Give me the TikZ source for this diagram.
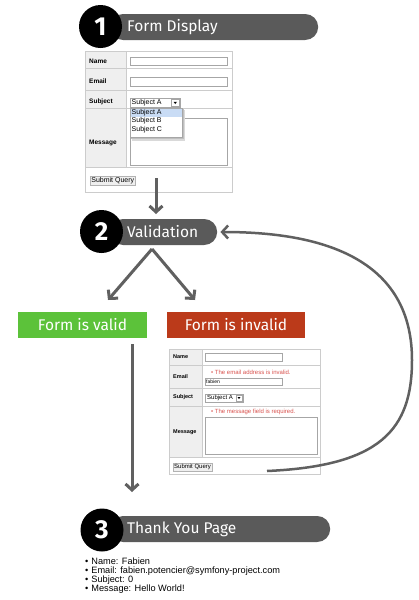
\documentclass[tikz,border=0pt]{standalone}
\usepackage{fontspec}
\setmainfont{Liberation Sans}
\newfontfamily\headfont{Fira Sans}
\usetikzlibrary{arrows.meta,shapes.misc}
\definecolor{pillgray}{HTML}{5A5A5A}
\definecolor{arrgray}{HTML}{606060}
\definecolor{okgreen}{HTML}{5CC23A}
\definecolor{badred}{HTML}{BB3A1A}
\definecolor{cellline}{HTML}{CCCCCC}
\definecolor{labelbg}{HTML}{EFEFEF}
\definecolor{errred}{HTML}{D9534F}
\definecolor{pickblue}{HTML}{C9DCF5}
\tikzset{
  badge/.style={circle,fill=black,text=white,minimum size=43pt,inner sep=0pt,font=\headfont\bfseries\fontsize{26}{26}\selectfont},
  pill/.style={rounded rectangle,fill=pillgray,minimum height=26pt,inner sep=0pt},
  ttl/.style={text=white,inner sep=0pt,anchor=west,font=\headfont\fontsize{15.5}{15.5}\selectfont},
  verdict/.style={minimum height=26pt,inner sep=0pt,text=white,font=\headfont\fontsize{15.5}{15.5}\selectfont},
  flow/.style={draw=arrgray,line width=3pt,-{Straight Barb[length=6pt,width=13pt]}},
  cell/.style={draw=cellline,line width=0.6pt},
  field/.style={draw=gray!70,fill=white,line width=0.6pt},
  lbl/.style={font=\bfseries\fontsize{6.5}{6.5}\selectfont,anchor=west,inner sep=0pt},
  ftxt/.style={font=\fontsize{7}{7}\selectfont,anchor=west,inner sep=0pt},
  err/.style={text=errred,font=\fontsize{6}{6}\selectfont,anchor=west,inner sep=0pt},
  btn/.style={draw=gray!60,fill=labelbg,inner sep=1.2pt,anchor=west,font=\fontsize{7}{7}\selectfont},
  reslist/.style={align=left,inner sep=0pt,anchor=north west,font=\fontsize{9.2}{9}\selectfont}
}

\begin{document}
\begin{tikzpicture}[x=1pt,y=-1pt]
\useasboundingbox[fill=white] (0,0) rectangle (418,600);

% step 1: the form
\node[pill,minimum width=208pt,anchor=west] (p1) at (110,27) {};
\node[badge] (b1) at (100.5,26.5) {1};
\node[ttl] (t1) at (127,27) {Form Display};

\fill[white] (85,51) rectangle (232,192);
\fill[labelbg] (85,51) rectangle (126,167);
\draw[cell] (85,51) rectangle (232,192);
\foreach \y in {68,90,108,167} \draw[cell] (85,\y) -- (232,\y);
\draw[cell] (126,51) -- (126,167);
\node[lbl] at (89,61) {Name};
\node[lbl] at (89,81) {Email};
\node[lbl] at (89,102) {Subject};
\node[lbl] at (89,143) {Message};
\draw[field] (130,57) rectangle (227,65);
\draw[field] (130,77) rectangle (227,86);
\draw[field] (130,118) rectangle (227,165);
\draw[field] (130,98) rectangle (180,107);
\node[ftxt] at (131.5,102.5) {Subject A};
\draw[field] (171.5,99.5) rectangle (179,106);
\fill (173.5,101.8) -- (177,101.8) -- (175.25,104) -- cycle;
% open list
\fill[black!15] (132,110) rectangle (185,141);
\fill[black!25] (131,109) rectangle (183.5,139);
\draw[field] (130,108) rectangle (182,137);
\fill[pickblue] (130.5,108.5) rectangle (181.5,116.5);
\node[ftxt] at (131.5,112.5) {Subject A};
\node[ftxt] at (131.5,121) {Subject B};
\node[ftxt] at (131.5,129.5) {Subject C};
\node[btn] (sq1) at (90,181) {Submit Query};

\coordinate (f1out) at (156,178);
\draw[flow] (f1out) -- (156,214);

% step 2: validation
\node[pill,minimum width=107pt,anchor=west] (p2) at (110,232) {};
\node[badge] (b2) at (101.5,231.5) {2};
\node[ttl] (t2) at (127,232) {Validation};

\coordinate (fork) at (152,249);
\coordinate (okin) at (108,300);
\coordinate (badin) at (195,300);
\draw[flow] (fork) -- (okin);
\draw[flow] (fork) -- (badin);

\node[verdict,fill=okgreen,minimum width=129pt] (ok) at (82.5,325) {Form is valid};
\node[verdict,fill=badred,minimum width=138pt] (bad) at (236,325) {Form is invalid};

% the form again, with errors
\fill[white] (169,349) rectangle (320,474);
\fill[labelbg] (169,349) rectangle (202,457);
\draw[cell] (169,349) rectangle (320,474);
\foreach \y in {365,388,406,457} \draw[cell] (169,\y) -- (320,\y);
\draw[cell] (202,349) -- (202,457);
\node[lbl,font=\bfseries\fontsize{5.5}{5.5}\selectfont] at (173,357) {Name};
\node[lbl,font=\bfseries\fontsize{5.5}{5.5}\selectfont] at (173,377) {Email};
\node[lbl,font=\bfseries\fontsize{5.5}{5.5}\selectfont] at (173,397) {Subject};
\node[lbl,font=\bfseries\fontsize{5.5}{5.5}\selectfont] at (173,432) {Message};
\draw[field] (205,353) rectangle (282,361);
\node[err] at (211,372) {\textbullet\ The email address is invalid.};
\draw[field] (205,378) rectangle (282,385);
\node[ftxt,font=\fontsize{5}{5}\selectfont] at (206,381.5) {fabien};
\draw[field] (205,394) rectangle (243,402);
\node[ftxt,font=\fontsize{6}{6}\selectfont] at (207,398) {Subject A};
\draw[field] (236,395) rectangle (242,401);
\fill (237.5,397) -- (240.5,397) -- (239,399) -- cycle;
\node[err] at (211,412) {\textbullet\ The message field is required.};
\draw[field] (205,417) rectangle (317,454);
\node[btn,font=\fontsize{6}{6}\selectfont,inner sep=1pt] (sq2) at (173,467) {Submit Query};

% back to validation
\coordinate (retry) at (267,471);
\draw[flow,line width=2.5pt] (retry) .. controls (380,466) and (412,430) .. (412,360)
  .. controls (412,252) and (310,232) .. ([xshift=3pt]p2.east);

% step 3: thank you
\coordinate (okout) at (132,344);
\coordinate (thanksin) at (132,492);
\draw[flow] (okout) -- (thanksin);

\node[pill,minimum width=220pt,anchor=west] (p3) at (110,529) {};
\node[badge] (b3) at (102,530) {3};
\node[ttl] (t3) at (127,529) {Thank You Page};

\node[reslist] (res) at (85,558) {\textbullet\hspace{3pt}Name: Fabien\\
  \textbullet\hspace{3pt}Email: fabien.potencier@symfony-project.com\\
  \textbullet\hspace{3pt}Subject: 0\\
  \textbullet\hspace{3pt}Message: Hello World!};
\end{tikzpicture}
\end{document}
